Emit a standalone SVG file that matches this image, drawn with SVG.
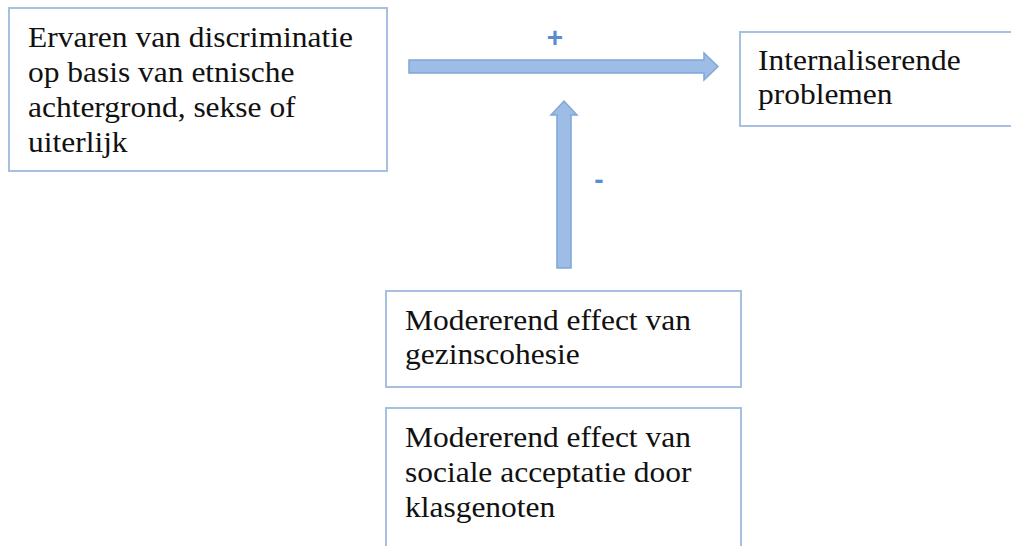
<svg xmlns="http://www.w3.org/2000/svg" width="1011" height="546" viewBox="0 0 1011 546">
<style>
.box{fill:#fff;stroke:#a6c0e0;stroke-width:2}
.t{font-family:"Liberation Serif","Times New Roman",serif;font-size:29px;fill:#111}
.arr{fill:#9dbde6;stroke:#7fa7d8;stroke-width:1.5}
.sign{font-family:"Liberation Sans",Arial,sans-serif;font-size:28px;font-weight:bold;fill:#5b8bd0}
</style>
<rect width="1011" height="546" fill="#fff"/>
<g id="n1">
<rect class="box" x="9" y="8" width="378" height="163"/>
<text class="t" transform="translate(28,0) scale(1.085,1)"><tspan x="0" y="47">Ervaren van discriminatie</tspan><tspan x="0" y="82">op basis van etnische</tspan><tspan x="0" y="117">achtergrond, sekse of</tspan><tspan x="0" y="152">uiterlijk</tspan></text>
</g>
<g id="n2">
<rect class="box" x="740" y="32" width="290" height="94"/>
<text class="t" transform="translate(758,0) scale(1.085,1)"><tspan x="0" y="70">Internaliserende</tspan><tspan x="0" y="104">problemen</tspan></text>
</g>
<g id="n3">
<rect class="box" x="386" y="291" width="355" height="96"/>
<text class="t" transform="translate(405,0) scale(1.085,1)"><tspan x="0" y="330">Modererend effect van</tspan><tspan x="0" y="364">gezinscohesie</tspan></text>
</g>
<g id="n4">
<rect class="box" x="386" y="408" width="355" height="160"/>
<text class="t" transform="translate(405,0) scale(1.085,1)"><tspan x="0" y="447">Modererend effect van</tspan><tspan x="0" y="482">sociale acceptatie door</tspan><tspan x="0" y="517">klasgenoten</tspan></text>
</g>
<g id="connectors">
<path class="arr" d="M409,60 L704,60 L704,53 L718,66.5 L704,80 L704,73 L409,73 Z"/>
<path class="arr" d="M557,268 L557,115 L551,115 L564,101 L577,115 L571,115 L571,268 Z"/>
<text class="sign" x="555" y="47" text-anchor="middle">+</text>
<text class="sign" x="599" y="189" text-anchor="middle">-</text>
</g>
</svg>
